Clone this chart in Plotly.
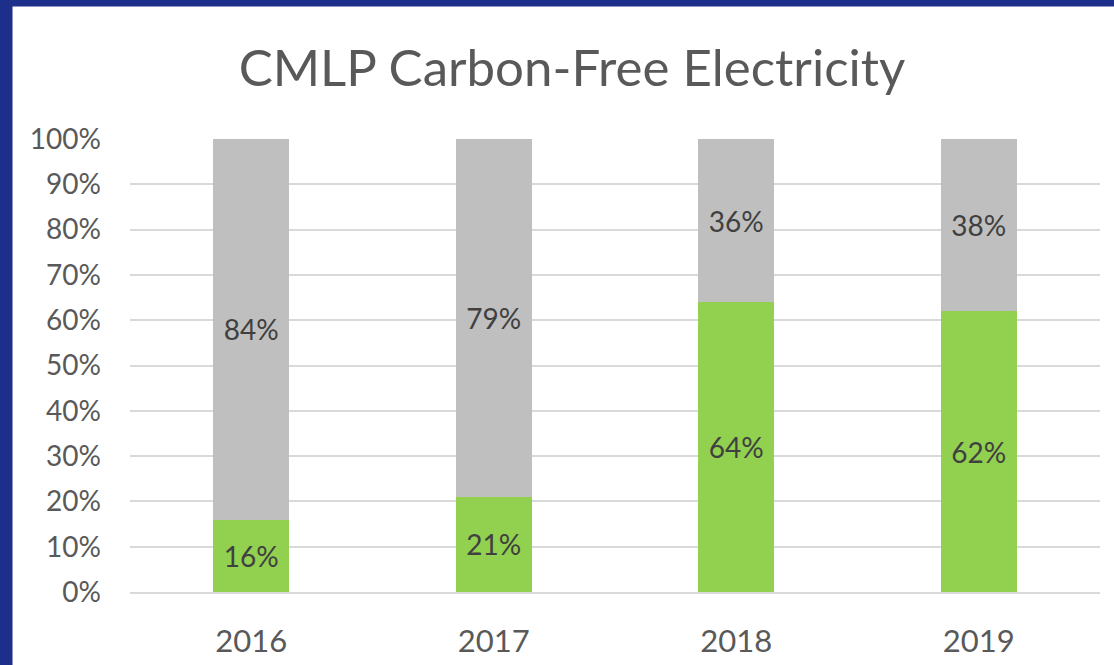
import plotly.graph_objects as go

years = ["2016", "2017", "2018", "2019"]
carbon_free = [0.16, 0.21, 0.64, 0.62]
other = [0.84, 0.79, 0.36, 0.38]
y_ticks = [i / 10 for i in range(11)]
y_tick_labels = [f"{i*10}%" for i in range(11)]

W, H = 1114, 665
L, R, T, B = 130, 14, 139, 73
PW, PH = W - L - R, H - T - B

def px_x(px):
    return (px - L) / PW

def px_y(py):
    return (H - B - py) / PH

FONT = "Lato, 'Open Sans', sans-serif"
GREEN = "#92d050"
GRAY = "#bfbfbf"
BLUE = "#1d2f8b"

fig = go.Figure()
fig.add_trace(go.Bar(
    x=years, y=carbon_free, name="Carbon-Free",
    marker=dict(color=GREEN, line=dict(width=0)),
    text=[f"{round(v*100)}%" for v in carbon_free],
    textposition="inside", insidetextanchor="middle",
    textfont=dict(family=FONT, size=28, color="#404040"),
    hoverinfo="skip",
))
fig.add_trace(go.Bar(
    x=years, y=other, name="Other",
    marker=dict(color=GRAY, line=dict(width=0)),
    text=[f"{round(v*100)}%" for v in other],
    textposition="inside", insidetextanchor="middle",
    textfont=dict(family=FONT, size=28, color="#404040"),
    hoverinfo="skip",
))

shapes = [
    dict(type="rect", xref="paper", yref="paper",
         x0=px_x(0), x1=px_x(12.5), y0=px_y(H), y1=px_y(0),
         fillcolor=BLUE, line=dict(width=0), layer="above"),
    dict(type="rect", xref="paper", yref="paper",
         x0=px_x(0), x1=px_x(W), y0=px_y(6.5), y1=px_y(0),
         fillcolor=BLUE, line=dict(width=0), layer="above"),
]

fig.update_layout(
    width=W, height=H,
    barmode="stack", bargap=0.685,
    showlegend=False,
    paper_bgcolor="white", plot_bgcolor="white",
    margin=dict(l=L, r=R, t=T, b=B, pad=0, autoexpand=False),
    font=dict(family=FONT, color="#595959"),
    title=dict(text="CMLP Carbon-Free Electricity", x=572 / W, xref="container",
               xanchor="center", y=1 - 68 / H, yref="container", yanchor="middle",
               font=dict(family=FONT, size=51, color="#595959"), automargin=False),
    shapes=shapes,
)
fig.update_yaxes(
    range=[0, 1], tickvals=y_ticks, ticktext=y_tick_labels,
    showgrid=True, gridcolor="#d9d9d9", gridwidth=1.5,
    zeroline=False, showline=False, automargin=False,
    tickfont=dict(family=FONT, size=28, color="#595959"),
    ticks="", ticklabelstandoff=28,
)
fig.update_xaxes(
    showgrid=False, showline=True, linecolor="#d9d9d9", linewidth=1.5,
    automargin=False,
    tickfont=dict(family=FONT, size=31, color="#595959"),
    ticks="", ticklabelstandoff=21,
)

fig.write_html(
    "out.html",
    config={"displayModeBar": False},
    post_script="document.body.style.margin='0';document.body.style.overflow='hidden';",
)
